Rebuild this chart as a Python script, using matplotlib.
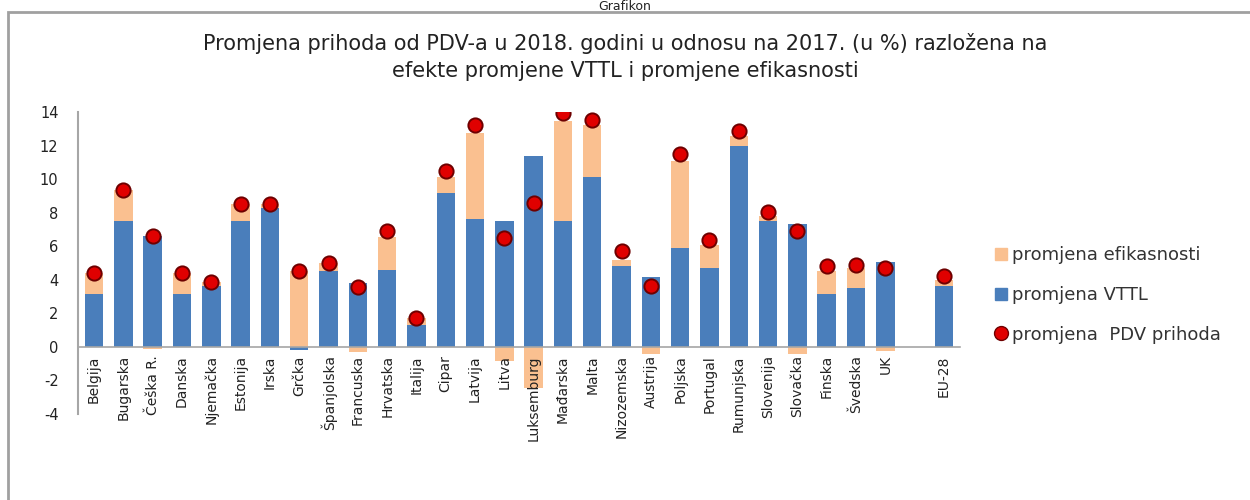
import numpy as np
import matplotlib
matplotlib.use("Agg")
import matplotlib.pyplot as plt
from matplotlib.patches import Rectangle
from matplotlib.lines import Line2D

plt.rcParams["axes.unicode_minus"] = False

# -----------------------------------------------------------------------------
# Data
# -----------------------------------------------------------------------------
countries = ["Belgija", "Bugarska", "Češka R.", "Danska", "Njemačka", "Estonija",
             "Irska", "Grčka", "Španjolska", "Francuska", "Hrvatska", "Italija",
             "Cipar", "Latvija", "Litva", "Luksemburg", "Mađarska", "Malta",
             "Nizozemska", "Austrija", "Poljska", "Portugal", "Rumunjska",
             "Slovenija", "Slovačka", "Finska", "Švedska", "UK", "EU-28"]

vttl = [3.15, 7.5, 6.6, 3.15, 3.6, 7.5, 8.25, -0.2, 4.5, 3.8, 4.6, 1.3,
        9.15, 7.65, 7.5, 11.4, 7.5, 10.1, 4.85, 4.15, 5.9, 4.7, 11.95,
        7.5, 7.3, 3.15, 3.5, 5.05, 3.6]

efikasnost = [1.25, 1.85, -0.1, 1.25, 0.25, 1.0, 0.25, 4.5, 0.5, -0.3, 1.95, 0.4,
              0.95, 5.1, -0.85, -2.45, 5.95, 3.1, 0.35, -0.45, 5.15, 1.4, 0.6,
              0.3, -0.45, 1.35, 1.2, -0.25, 0.4]

pdv = [4.4, 9.35, 6.6, 4.4, 3.85, 8.5, 8.5, 4.5, 5.0, 3.55, 6.9, 1.7,
       10.5, 13.2, 6.5, 8.6, 13.95, 13.5, 5.7, 3.6, 11.5, 6.4, 12.85,
       8.05, 6.9, 4.8, 4.9, 4.7, 4.25]

yticks = list(range(-4, 15, 2))

title = ("Promjena prihoda od PDV-a u 2018. godini u odnosu na 2017. (u %) razložena na\n"
         "efekte promjene VTTL i promjene efikasnosti")

# -----------------------------------------------------------------------------
# Plot
# -----------------------------------------------------------------------------
BLUE = "#4A7EBB"
PEACH = "#FAC090"
RED = "#E00000"
DARKRED = "#6E0000"
TXT = "#222222"

vttl = np.array(vttl)
efik = np.array(efikasnost)
n = len(countries)
x = np.r_[np.arange(n - 1), n]          # empty slot before EU-28

# stack like excel: positives on positives, negatives on negatives
bottom = np.where(efik >= 0, np.clip(vttl, 0, None), np.clip(vttl, None, 0))

fig = plt.figure(figsize=(12.5, 5), dpi=100)
ax = fig.add_axes([0.0624, 0.172, 0.7056, 0.604])
ax.set_axisbelow(False)

ax.bar(x, vttl, width=0.63, color=BLUE, zorder=2)
ax.bar(x, efik, bottom=bottom, width=0.63, color=PEACH, zorder=2)
ax.scatter(x, pdv, s=105, color=RED, edgecolor=DARKRED, linewidth=1.4, zorder=3)

ax.set_xlim(-0.55, n + 0.55)
ax.set_ylim(-4, 14)
ax.set_yticks(yticks)
ax.tick_params(axis="y", length=0, labelsize=10.5, pad=14, colors=TXT)

ax.spines["top"].set_visible(False)
ax.spines["right"].set_visible(False)
ax.spines["left"].set_color("#A6A6A6")
ax.spines["left"].set_linewidth(1.5)
ax.spines["bottom"].set_position(("data", 0))
ax.spines["bottom"].set_color("#A6A6A6")
ax.spines["bottom"].set_linewidth(1.2)
ax.set_xticks(x)
ax.set_xticklabels(countries, rotation=90, fontsize=10, color=TXT)
ax.tick_params(axis="x", length=0, pad=6)

fig.text(0.5, 0.886, title, ha="center", va="center", fontsize=15,
         color=TXT, linespacing=1.4)

# legend
handles = [
    Line2D([], [], marker="s", linestyle="", color=PEACH, markersize=8),
    Line2D([], [], marker="s", linestyle="", color=BLUE, markersize=8),
    Line2D([], [], marker="o", linestyle="", markerfacecolor=RED,
           markeredgecolor=DARKRED, markersize=10),
]
labels = ["promjena efikasnosti", "promjena VTTL", "promjena  PDV prihoda"]
fig.legend(handles, labels, loc="center left", bbox_to_anchor=(0.781, 0.41),
           frameon=False, fontsize=13, handletextpad=0.2, labelspacing=1.2,
           handlelength=0.9, labelcolor="#333333")

# outer chart border (runs off the right and bottom of the picture)
fig.patches.append(Rectangle((8 / 1250, -0.1), 1.1, 1.1 - 12 / 500,
                             transform=fig.transFigure, fill=False,
                             edgecolor="#A0A0A0", linewidth=2))
fig.text(0.5, 0.999, "Grafikon", ha="center", va="top", fontsize=9, color=TXT)

fig.savefig("out.png", dpi=100)
